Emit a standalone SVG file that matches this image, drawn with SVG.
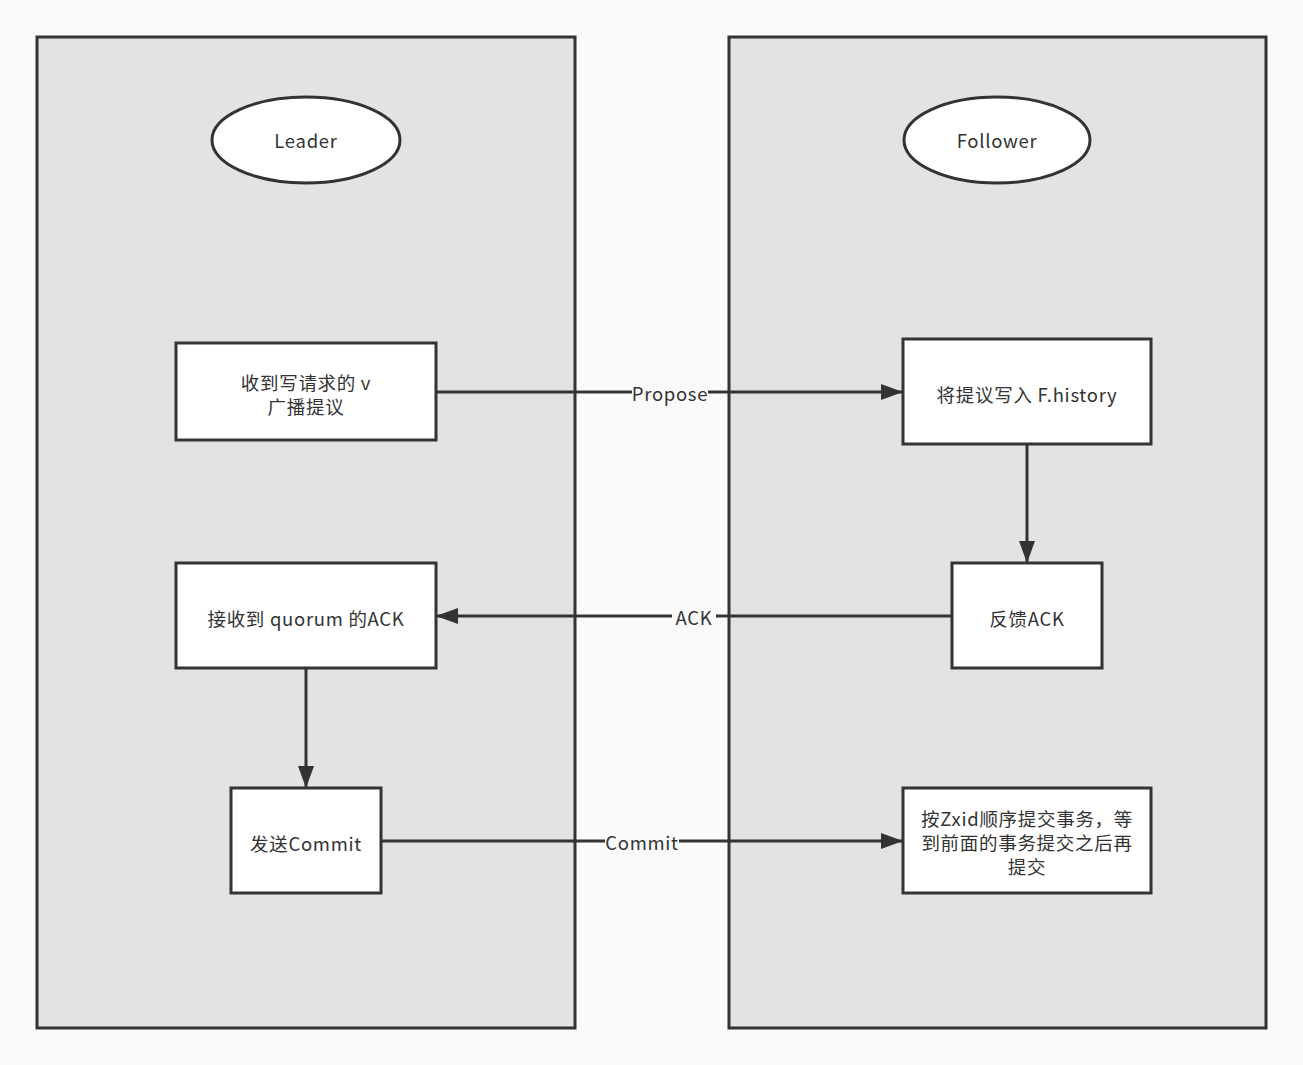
<svg xmlns="http://www.w3.org/2000/svg" width="1303" height="1065" viewBox="0 0 1303 1065">
<style>
.lane{fill:#e3e3e3;stroke:#333;stroke-width:3}
.node{fill:#fff;stroke:#333;stroke-width:3}
.t{font-family:"Noto Sans CJK SC","Liberation Sans",sans-serif;font-size:18.5px;letter-spacing:0.7px;fill:#333;text-anchor:middle;dominant-baseline:central}
.e{stroke:#333;stroke-width:3;fill:none}
.lbl{fill:#fafafa}
</style>
<defs>
<marker id="ah" viewBox="0 0 22 16" refX="22" refY="8" markerWidth="22" markerHeight="16" markerUnits="userSpaceOnUse" orient="auto">
<path d="M0,0 L22,8 L0,16 Z" fill="#333"/>
</marker>
</defs>
<rect width="1303" height="1065" fill="#fafafa"/>
<g id="lane-leader"><rect class="lane" x="37" y="37" width="538" height="991"/></g>
<g id="lane-follower"><rect class="lane" x="729" y="37" width="537" height="991"/></g>
<g id="leader"><ellipse class="node" cx="306" cy="140" rx="94" ry="43"/><text class="t" x="306" y="140">Leader</text></g>
<g id="follower"><ellipse class="node" cx="997" cy="140" rx="93" ry="43"/><text class="t" x="997" y="140">Follower</text></g>
<g id="connectors">
<line class="e" x1="436" y1="392" x2="903" y2="392" marker-end="url(#ah)"/>
<rect class="lbl" x="632" y="381" width="76" height="24"/>
<text class="t" x="670" y="393">Propose</text>
<line class="e" x1="1027" y1="444" x2="1027" y2="563" marker-end="url(#ah)"/>
<line class="e" x1="952" y1="616" x2="436" y2="616" marker-end="url(#ah)"/>
<rect class="lbl" x="672" y="605" width="44" height="24"/>
<text class="t" x="694" y="617">ACK</text>
<line class="e" x1="306" y1="668" x2="306" y2="788" marker-end="url(#ah)"/>
<line class="e" x1="381" y1="841" x2="903" y2="841" marker-end="url(#ah)"/>
<rect class="lbl" x="605" y="830" width="74" height="24"/>
<text class="t" x="642" y="842">Commit</text>
</g>
<g id="n1"><rect class="node" x="176" y="343" width="260" height="97"/><text class="t" x="306" y="382">收到写请求的 v</text><text class="t" x="306" y="406">广播提议</text></g>
<g id="n2"><rect class="node" x="903" y="339" width="248" height="105"/><text class="t" x="1027" y="394">将提议写入 F.history</text></g>
<g id="n3"><rect class="node" x="952" y="563" width="150" height="105"/><text class="t" x="1027" y="618">反馈ACK</text></g>
<g id="n4"><rect class="node" x="176" y="563" width="260" height="105"/><text class="t" x="306" y="618">接收到 quorum 的ACK</text></g>
<g id="n5"><rect class="node" x="231" y="788" width="150" height="105"/><text class="t" x="306" y="843">发送Commit</text></g>
<g id="n6"><rect class="node" x="903" y="788" width="248" height="105"/><text class="t" x="1027" y="818">按Zxid顺序提交事务，等</text><text class="t" x="1027" y="842">到前面的事务提交之后再</text><text class="t" x="1027" y="866">提交</text></g>
</svg>
